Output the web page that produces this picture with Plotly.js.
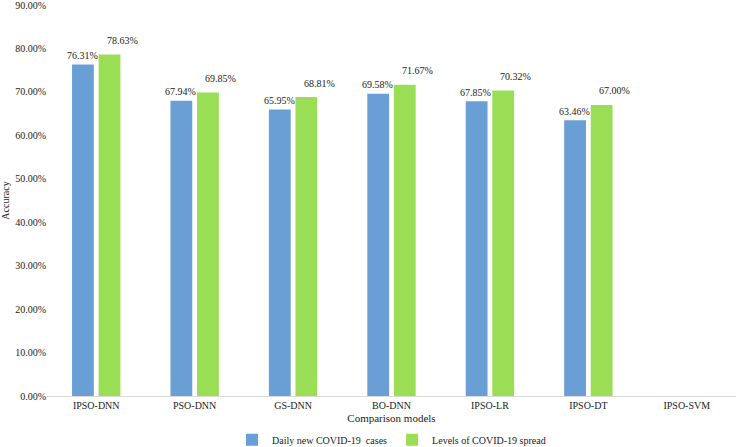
<!DOCTYPE html>
<html>
<head>
<meta charset="utf-8">
<script src="https://cdn.plot.ly/plotly-3.0.1.min.js"></script>
<style>html,body{margin:0;padding:0;background:#fff;}#chart{width:738px;height:447px;}</style>
</head>
<body>
<div id="chart"></div>
<script>
const categories = ['IPSO-DNN','PSO-DNN','GS-DNN','BO-DNN','IPSO-LR','IPSO-DT','IPSO-SVM'];
const dailyCases = [0.7631, 0.6794, 0.6595, 0.6958, 0.6785, 0.6346, null];
const spreadLevels = [0.7863, 0.6985, 0.6881, 0.7167, 0.7032, 0.6700, null];
const seriesNames = ['Daily new COVID-19  cases', 'Levels of COVID-19 spread'];

const font = '"Liberation Serif", "Times New Roman", serif';
const blue = '#6a9fd5', green = '#9ade55';
const txt = '#222';

const annotations = [];
categories.forEach((c, i) => {
  if (dailyCases[i] != null) annotations.push({x: c, y: dailyCases[i], text: (dailyCases[i]*100).toFixed(2)+'%', showarrow: false, xshift: -14, yshift: 9, font: {family: font, size: 10, color: txt}});
  if (spreadLevels[i] != null) annotations.push({x: c, y: spreadLevels[i], text: (spreadLevels[i]*100).toFixed(2)+'%', showarrow: false, xshift: 26, yshift: 14, font: {family: font, size: 10, color: txt}});
});

const data = [
  {type: 'bar', name: seriesNames[0], x: categories, y: dailyCases, marker: {color: blue}},
  {type: 'bar', name: seriesNames[1], x: categories, y: spreadLevels, marker: {color: green}}
];

const layout = {
  width: 738, height: 447,
  margin: {l: 47, r: 2, t: 5, b: 51, autoexpand: false},
  paper_bgcolor: '#fff', plot_bgcolor: '#fff',
  barmode: 'group', bargap: 0.46, bargroupgap: 0.18,
  font: {family: font, size: 10, color: txt},
  xaxis: {
    type: 'category', showline: true, linecolor: '#d9d9d9', linewidth: 1,
    ticks: '', showgrid: false, tickfont: {family: font, size: 10, color: txt},
    title: {text: 'Comparison models', font: {family: font, size: 11, color: txt}, standoff: 4}
  },
  yaxis: {
    range: [0, 0.90001], tickvals: [0,0.1,0.2,0.3,0.4,0.5,0.6,0.7,0.8,0.9], tickformat: '.2%', showgrid: false, zeroline: false,
    showline: false, ticks: '', ticklabeloverflow: 'allow', tickfont: {family: font, size: 10, color: txt},
    title: {text: 'Accuracy', font: {family: font, size: 10, color: txt}, standoff: 8}
  },
  legend: {orientation: 'h', x: 0.5, xanchor: 'center', y: -0.112, yanchor: 'middle',
    font: {family: font, size: 10, color: txt}, traceorder: 'normal'},
  annotations: annotations,
  showlegend: true
};

Plotly.newPlot('chart', data, layout, {displayModeBar: false, staticPlot: true});
</script>
</body>
</html>
